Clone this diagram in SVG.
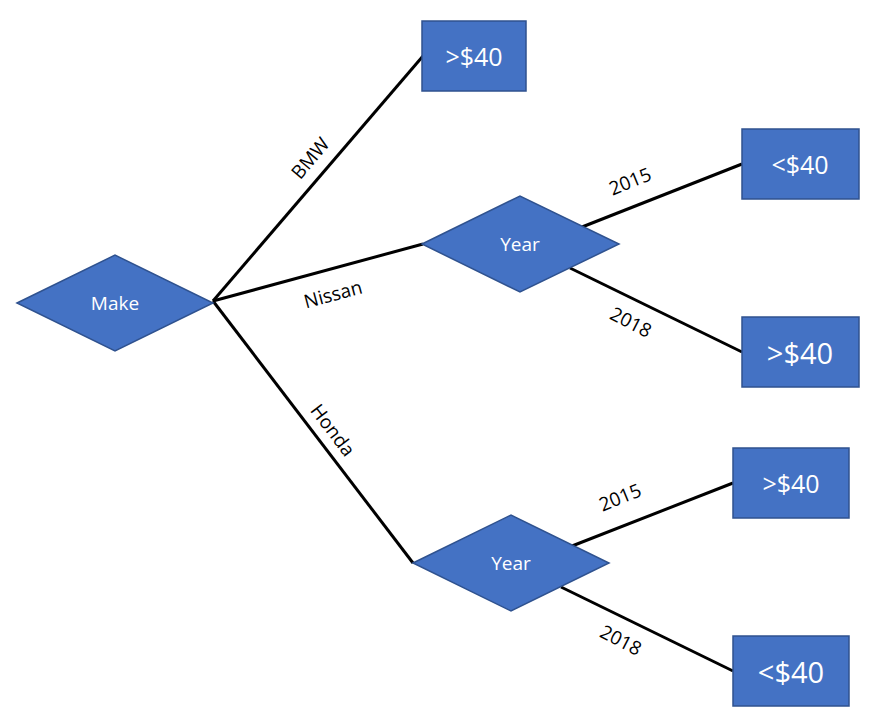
<svg xmlns="http://www.w3.org/2000/svg" width="876" height="723" viewBox="0 0 876 723">
<style>
.n{fill:#4472C4;stroke:#2F528F;stroke-width:1.5}
.t{fill:#fff;font-family:"Open Sans","Noto Sans",sans-serif;text-anchor:middle;dominant-baseline:central}
.l{fill:#000;font-family:"Open Sans","Noto Sans",sans-serif;font-size:19px;text-anchor:middle;dominant-baseline:central}
.c line{stroke:#000;stroke-width:3}
</style>
<rect width="876" height="723" fill="#fff"/>
<g class="c" id="connectors">
<line x1="213" y1="301" x2="423" y2="56"/>
<line x1="213" y1="301" x2="423" y2="244"/>
<line x1="213" y1="301" x2="413" y2="563"/>
<line x1="582" y1="227" x2="742" y2="164"/>
<line x1="570" y1="268" x2="742" y2="352"/>
<line x1="572" y1="546" x2="733" y2="483"/>
<line x1="561" y1="587" x2="733" y2="671"/>
<text class="l" transform="translate(310,158) rotate(-50)">BMW</text>
<text class="l" transform="translate(333,294) rotate(-15)">Nissan</text>
<text class="l" transform="translate(333,430) rotate(53)">Honda</text>
<text class="l" transform="translate(630,181) rotate(-22)">2015</text>
<text class="l" transform="translate(631,322) rotate(27)">2018</text>
<text class="l" transform="translate(620,497) rotate(-22)">2015</text>
<text class="l" transform="translate(621,640) rotate(27)">2018</text>
</g>
<g id="make"><polygon class="n" points="17,303 115,255 213,303 115,351"/><text class="t" x="115" y="303" font-size="19">Make</text></g>
<g id="year1"><polygon class="n" points="422,244 520,196 619,244 520,292"/><text class="t" x="520" y="244" font-size="19">Year</text></g>
<g id="year2"><polygon class="n" points="413,563 511,515 609,563 511,611"/><text class="t" x="511" y="563" font-size="19">Year</text></g>
<g id="b1"><rect class="n" x="422" y="21" width="104" height="70"/><text class="t" x="474" y="56" font-size="25">&gt;$40</text></g>
<g id="b2"><rect class="n" x="742" y="129" width="117" height="70"/><text class="t" x="800" y="164" font-size="25">&lt;$40</text></g>
<g id="b3"><rect class="n" x="742" y="317" width="117" height="70"/><text class="t" x="800" y="352" font-size="29">&gt;$40</text></g>
<g id="b4"><rect class="n" x="733" y="448" width="116" height="70"/><text class="t" x="791" y="483" font-size="25">&gt;$40</text></g>
<g id="b5"><rect class="n" x="733" y="636" width="116" height="70"/><text class="t" x="791" y="671" font-size="29">&lt;$40</text></g>
</svg>
